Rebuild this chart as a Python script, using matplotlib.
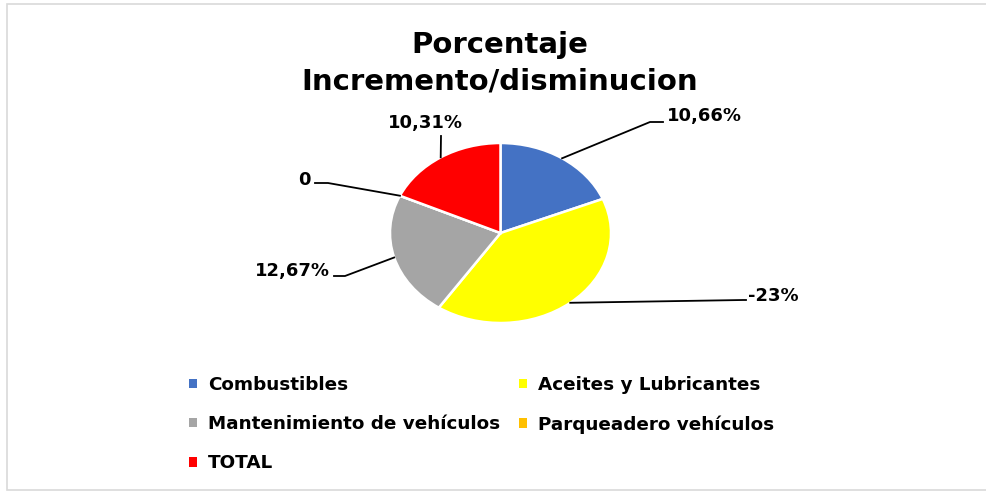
import matplotlib
matplotlib.use('Agg')
import numpy as np
import matplotlib.pyplot as plt
from matplotlib.patches import Patch, Rectangle
from matplotlib.lines import Line2D

categories = ['Combustibles', 'Aceites y Lubricantes', 'Mantenimiento de vehículos',
              'Parqueadero vehículos', 'TOTAL']
values = [10.66, -23, 12.67, 0, 10.31]
value_labels = ['10,66%', '-23%', '12,67%', '0', '10,31%']
colors = ['#4472C4', '#FFFF00', '#A5A5A5', '#FFC000', '#FF0000']

W, H = 986, 491
FONT = 'DejaVu Sans'
plt.rcParams['font.family'] = FONT


def px(x, y):
    # image pixels (top-left origin) -> figure fraction
    return x / W, (H - y) / H


fig = plt.figure(figsize=(W / 100, H / 100), dpi=100)

# frame of the chart area
fig.add_artist(Rectangle(px(7, 490), (W - 6) / W, 486 / H, transform=fig.transFigure,
                         fill=False, edgecolor='#D9D9D9', linewidth=1.2))

fig.text(*px(500, 45), 'Porcentaje', ha='center', va='center',
         fontsize=21, fontweight='bold')
fig.text(*px(500, 81), 'Incremento/disminucion', ha='center', va='center',
         fontsize=21, fontweight='bold')

# pie (excel draws it stretched -> ellipse)
ax = fig.add_axes([390 / W, (H - 323) / H, 221 / W, 180 / H])
wedges, _ = ax.pie(np.abs(values), colors=colors, startangle=90, counterclock=False,
                   radius=1, wedgeprops=dict(edgecolor='white', linewidth=1.8))
ax.set_aspect('auto')
ax.set_xlim(-1, 1)
ax.set_ylim(-1, 1)
ax.axis('off')

# label layout: text pos, alignment, elbow points (image px)
label_pos = [(667, 116, 'left'), (748, 296, 'left'), (330, 271, 'right'),
             (311, 180, 'right'), (425, 123, 'center')]
elbows = [[(650, 122), (663, 122)],
          [(743, 300), (746, 300)],
          [(345, 276), (334, 276)],
          [(328, 183), (315, 183)],
          [(441, 136)]]

for w, lab, (tx, ty, ha), elb in zip(wedges, value_labels, label_pos, elbows):
    ang = np.deg2rad((w.theta1 + w.theta2) / 2)
    dx, dy = ax.transData.transform((np.cos(ang), np.sin(ang)))
    pts = [(dx, H - dy)] + elb
    xs = [p[0] / W for p in pts]
    ys = [(H - p[1]) / H for p in pts]
    fig.add_artist(Line2D(xs, ys, transform=fig.transFigure, color='black', linewidth=1.3))
    fig.text(*px(tx, ty), lab, ha=ha, va='center', fontsize=13, fontweight='bold')

# legend filled column-wise, so reorder to get excel's row order
order = [0, 2, 4, 1, 3]
handles = [Patch(facecolor=colors[i], edgecolor='none') for i in order]
labels = [categories[i] for i in order]
fig.legend(handles, labels, ncol=2, loc='upper left', bbox_to_anchor=px(189, 376),
           frameon=False, prop=dict(family=FONT, weight='bold', size=13.2),
           handlelength=0.45, handleheight=0.45, handletextpad=0.6,
           columnspacing=1.0, labelspacing=1.15, borderpad=0, borderaxespad=0)

fig.savefig('out.png', dpi=100)
